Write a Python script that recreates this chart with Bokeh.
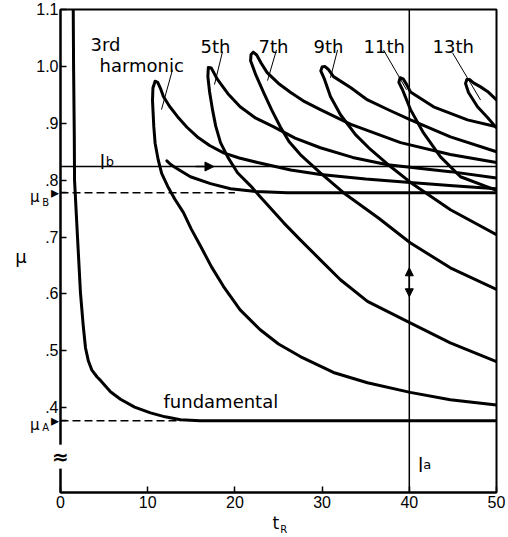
from bokeh.plotting import figure
from bokeh.models import Range1d, FixedTicker, Label, Span, Arrow, NormalHead
from bokeh.embed import file_html
from bokeh.resources import INLINE

# ---- data (t_R, mu) ----
fund_t = [1.46, 1.50, 1.58, 1.61, 1.95, 2.29, 2.6, 2.87, 3.2, 3.6, 4.2, 4.59, 5.73, 6.88, 8.5, 10.32, 12.0,
          13.76, 16.0, 50.0]
fund_mu = [1.10, 1.00, 0.88, 0.80, 0.70, 0.602, 0.545, 0.505, 0.482, 0.466, 0.454, 0.448, 0.428, 0.415, 0.401,
           0.391, 0.384, 0.379, 0.377, 0.377]

h3_t = [50, 44.7, 40.1, 35.2, 31.3, 27.5, 25.0, 22.9, 20.6, 18.7, 17.3, 16.1, 15.0, 14.1, 13.1, 12.3, 11.6, 11.2,
        10.85, 10.7, 10.55, 10.6, 10.85, 11.15, 11.5, 11.8, 12.5, 13.4, 14.5, 15.7, 17.1, 18.7, 20.5, 22.6, 26.4,
        29.8, 35.0, 40.1, 45.0, 50]
h3_mu = [0.405, 0.414, 0.427, 0.444, 0.462, 0.490, 0.512, 0.537, 0.572, 0.613, 0.648, 0.683, 0.714, 0.743,
         0.767, 0.789, 0.812, 0.836, 0.865, 0.894, 0.940, 0.962, 0.974, 0.972, 0.960, 0.947, 0.930, 0.912,
         0.893, 0.876, 0.861, 0.848, 0.839, 0.831, 0.818, 0.810, 0.802, 0.796, 0.790, 0.785]

h5_t = [50, 44.7, 40.1, 35.2, 32.1, 29.8, 27.5, 25.6, 22.9, 21.8, 20.3, 19.2, 18.35, 17.8, 17.43, 17.1, 16.9,
        16.95, 17.3, 18.0, 19.2, 20.6, 22.4, 24.4, 26.9, 29.8, 33.5, 37.5, 44.7, 50]
h5_mu = [0.481, 0.514, 0.549, 0.587, 0.625, 0.660, 0.695, 0.725, 0.771, 0.790, 0.813, 0.840, 0.866, 0.895,
         0.924, 0.955, 0.982, 0.998, 0.997, 0.977, 0.952, 0.929, 0.909, 0.894, 0.874, 0.857, 0.840, 0.827,
         0.815, 0.804]

h7_t = [50, 44.7, 40.1, 36.5, 32.45, 29.8, 27.5, 26.2, 25.2, 24.2, 23.3, 22.4, 21.8, 21.85, 22.1, 22.5, 23.0,
        23.7, 25.0, 26.4, 28.0, 29.8, 33.3, 39.0, 44.7, 50]
h7_mu = [0.608, 0.646, 0.690, 0.733, 0.778, 0.813, 0.845, 0.868, 0.894, 0.924, 0.954, 0.985, 1.010, 1.021,
         1.025, 1.020, 1.006, 0.989, 0.970, 0.954, 0.938, 0.924, 0.898, 0.866, 0.845, 0.831]

h9_t = [50, 44.72, 40.14, 37.84, 35.55, 33.83, 32.11, 30.96, 30.28, 29.85, 30.0, 30.3, 30.7, 31.31, 33.26, 35.21,
        37.84, 40.14, 44.72, 50]
h9_mu = [0.704, 0.748, 0.796, 0.824, 0.854, 0.880, 0.915, 0.947, 0.977, 0.992, 0.999, 1.000, 0.995, 0.982, 0.963,
         0.941, 0.922, 0.906, 0.876, 0.850]

h11_t = [50, 45.87, 43.58, 41.63, 40.14, 39.22, 38.8, 38.95, 39.3, 39.7, 40.14, 42.78, 46.67, 50]
h11_mu = [0.782, 0.806, 0.841, 0.883, 0.924, 0.959, 0.972, 0.980, 0.978, 0.968, 0.955, 0.929, 0.906, 0.894]

h13_t = [50, 48.97, 47.82, 46.79, 46.45, 46.6, 46.9, 47.36, 48.17, 48.97, 50]
h13_mu = [0.892, 0.910, 0.929, 0.954, 0.970, 0.977, 0.977, 0.971, 0.964, 0.956, 0.941]

hook_t = [12.2, 12.6, 13.2, 14.9, 17.2, 19.5, 22.4, 26.0, 50]
hook_mu = [0.834, 0.828, 0.822, 0.806, 0.794, 0.785, 0.780, 0.778, 0.778]

mu_A = 0.377
mu_B = 0.778
l_b = 0.824
l_a = 40.0

x_ticks = [0, 10, 20, 30, 40, 50]
x_tick_labels = ["0", "10", "20", "30", "40", "50"]
y_ticks = [0.4, 0.5, 0.6, 0.7, 0.8, 0.9, 1.0, 1.1, mu_A, mu_B]
y_tick_labels = [".4", ".5", ".6", ".7", ".8", ".9", "1.0", "1.1", "\u25b8", "\u25b8"]

harmonic_names = ["5th", "7th", "9th", "11th", "13th"]

# ---- figure ----
p = figure(width=508, height=537, x_range=Range1d(0, 50), y_range=Range1d(0.251, 1.1),
           output_backend="svg", toolbar_location=None,
           min_border_left=60, min_border_right=12, min_border_top=9, min_border_bottom=45)
p.background_fill_color = "white"
p.border_fill_color = "white"
p.grid.visible = False
p.outline_line_color = "black"
p.outline_line_width = 2
p.outline_line_alpha = 1

NUMFONT = "Liberation Sans"
TXTFONT = "DejaVu Sans"

for ax in (p.xaxis[0], p.yaxis[0]):
    ax.axis_line_width = 2
    ax.axis_line_color = "black"
    ax.major_tick_in = 6
    ax.major_tick_out = 0
    ax.minor_tick_in = 0
    ax.minor_tick_out = 0
    ax.major_tick_line_width = 1.5
    ax.major_tick_line_color = "black"
    ax.major_label_text_font = NUMFONT
    ax.major_label_text_font_size = "16px"
    ax.major_label_text_color = "black"

p.xaxis.ticker = FixedTicker(ticks=x_ticks)
p.xaxis.major_label_overrides = dict(zip(x_ticks, x_tick_labels))
p.xaxis.major_label_standoff = 3
p.yaxis.ticker = FixedTicker(ticks=y_ticks)
p.yaxis.major_label_overrides = dict(zip(y_ticks, y_tick_labels))
p.yaxis.major_label_standoff = 2

# ---- reference lines ----
p.add_layout(Span(location=l_b, dimension="width", line_color="black", line_width=1.5))
p.add_layout(Span(location=l_a, dimension="height", line_color="black", line_width=1.5))
p.line([0, 20], [mu_B, mu_B], line_color="black", line_width=1.5, line_dash="8 4")
p.line([0, 13.8], [mu_A, mu_A], line_color="black", line_width=1.5, line_dash="8 4")

# ---- curves ----
for xs, ys in [(fund_t, fund_mu), (h3_t, h3_mu), (h5_t, h5_mu), (h7_t, h7_mu), (h9_t, h9_mu),
               (h11_t, h11_mu), (h13_t, h13_mu), (hook_t, hook_mu)]:
    p.line(xs, ys, line_color="black", line_width=3, line_join="round", line_cap="round")

# ---- arrows ----
p.add_layout(Arrow(end=NormalHead(size=9, fill_color="black", line_color="black"),
                   x_start=15.5, y_start=l_b, x_end=17.6, y_end=l_b, line_width=1.5))
p.add_layout(Arrow(end=NormalHead(size=8, fill_color="black", line_color="black"),
                   x_start=l_a, y_start=0.62, x_end=l_a, y_end=0.646, line_width=1.5))
p.add_layout(Arrow(end=NormalHead(size=8, fill_color="black", line_color="black"),
                   x_start=l_a, y_start=0.62, x_end=l_a, y_end=0.595, line_width=1.5))

# ---- leader lines for harmonic labels ----
lead_x0 = [12.84, 18.58, 24.77, 31.77, 37.04, 44.95]
lead_y0 = [0.994, 1.026, 1.029, 1.029, 1.029, 1.024]
lead_x1 = [11.58, 17.66, 23.74, 30.96, 39.68, 48.17]
lead_y1 = [0.924, 0.968, 0.975, 0.980, 0.959, 0.941]
p.segment(lead_x0, lead_y0, lead_x1, lead_y1, line_color="black", line_width=1)


def txt(x, y, s, size, font=TXTFONT, align="left", baseline="alphabetic", place=None, **kw):
    lab = Label(x=x, y=y, text=s, text_font=font, text_font_size=size, text_align=align,
                text_baseline=baseline, text_color="black", **kw)
    if place is None:
        p.add_layout(lab)
    else:
        p.add_layout(lab, place)
    return lab


txt(3.44, 1.038, "3rd", "18px")
txt(4.47, 1.001, "harmonic", "18px")
for xpos, name in zip([16.06, 22.7, 29.01, 34.75, 42.66], harmonic_names):
    txt(xpos, 1.035, name, "18px")
txt(11.81, 0.411, "fundamental", "18px")

# l_b and l_a
txt(4.5, 0.832, "l", "19px")
txt(5.2, 0.832, "b", "13px")
txt(41.0, 0.300, "l", "19px")
txt(41.6, 0.300, "a", "13px")

# texts outside the frame: put in side panels (not clipped); placed by data coordinates
txt(-5.2, 0.665, "\u03bc", "18px", place="right")
txt(-3.5, 0.570, "\u03bc\n\u03bc", "15px", place="left", text_line_height=12.68)
txt(-2.1, 0.563, "B\nA", "10px", place="left", text_line_height=20.42)
txt(24.3, 0.198, "t", "17px", place="left")
txt(25.2, 0.186, "R", "10px", place="left")

# axis break symbol
txt(0, 0.314, "\u2248", "20px", align="center", baseline="middle", place="below",
    background_fill_color="white", text_font_style="bold")

open("out.html", "w").write(file_html(p, INLINE))
